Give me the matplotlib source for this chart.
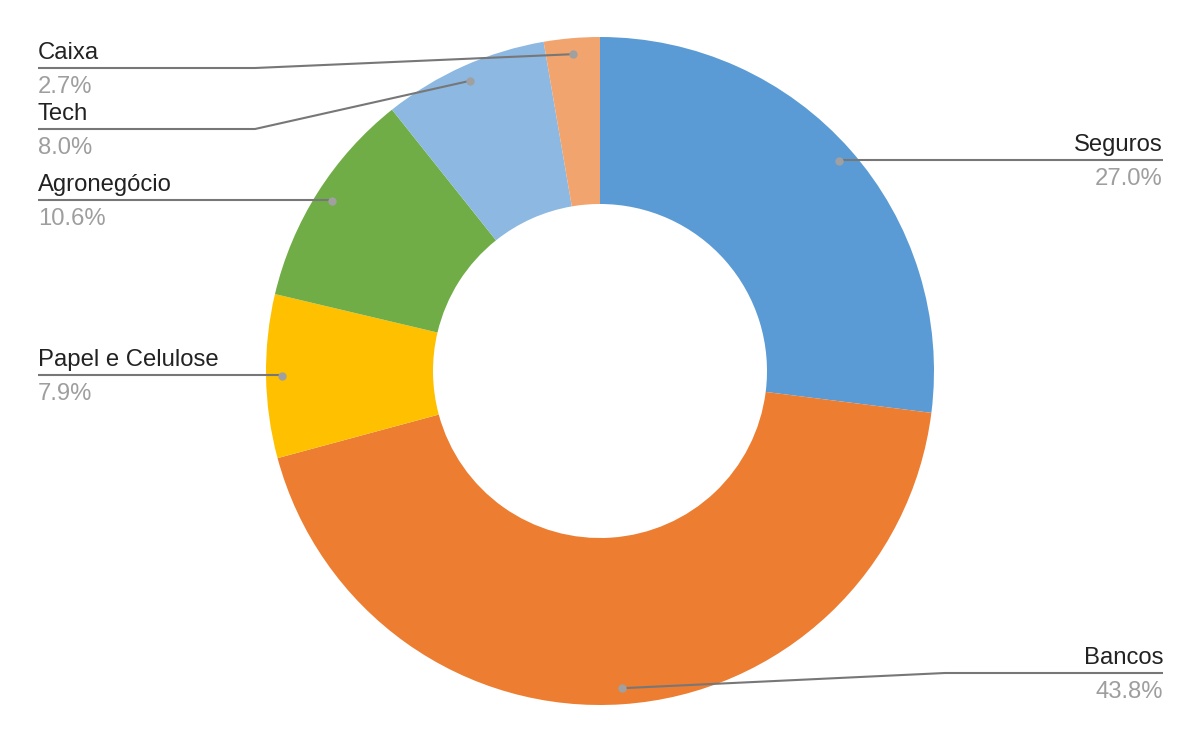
import numpy as np
import matplotlib
matplotlib.use("Agg")
import matplotlib.pyplot as plt

categories = ["Seguros", "Bancos", "Papel e Celulose", "Agronegócio", "Tech", "Caixa"]
values = [27.0, 43.8, 7.9, 10.6, 8.0, 2.7]
colors = ["#5B9BD5", "#ED7D31", "#FFC000", "#70AD47", "#8DB8E2", "#F1A46D"]

W, H = 1200, 742
fig = plt.figure(figsize=(W / 100, H / 100), dpi=100)
ax = fig.add_axes([0, 0, 1, 1])
cx, cy = 600, H - 371
R = 334
ax.pie(values, colors=colors, startangle=90, counterclock=False, radius=R,
       center=(cx, cy), wedgeprops=dict(width=R * 0.5, linewidth=0))
ax.set_xlim(0, W)
ax.set_ylim(0, H)
ax.set_aspect("equal")
ax.axis("off")

# label layout (pixel coords from top): side, line y, elbow x
layout = {
    "Seguros": ("right", 160, None),
    "Bancos": ("right", 673, 945),
    "Papel e Celulose": ("left", 375, None),
    "Agronegócio": ("left", 200, None),
    "Tech": ("left", 129, 255),
    "Caixa": ("left", 68, 255),
}

total = sum(values)
start = 90.0
font = ["Liberation Sans", "DejaVu Sans"]
for cat, v in zip(categories, values):
    span = v / total * 360
    mid = np.deg2rad(start - span / 2)
    start -= span
    dx = cx + 0.952 * R * np.cos(mid)
    dy = cy + 0.952 * R * np.sin(mid)
    side, ly, ex = layout[cat]
    ly = H - ly
    if side == "left":
        xe = 38
        ha = "left"
    else:
        xe = 1163
        ha = "right"
    if ex is None:
        xs = [xe, dx]
        ys = [ly, ly]
    else:
        xs = [xe, ex, dx]
        ys = [ly, ly, dy]
    ax.plot(xs, ys, color="#777777", lw=1.5, solid_capstyle="butt", zorder=3)
    ax.plot([dx], [dy], "o", color="#A0A0A0", ms=6, mec="none", zorder=4)
    ax.text(xe, ly + 15, cat, ha=ha, va="center", fontsize=17.2, color="#222222", family=font)
    ax.text(xe, ly - 19, f"{v:.1f}%", ha=ha, va="center", fontsize=17.2, color="#9E9E9E", family=font)

fig.savefig("out.png", dpi=100)
